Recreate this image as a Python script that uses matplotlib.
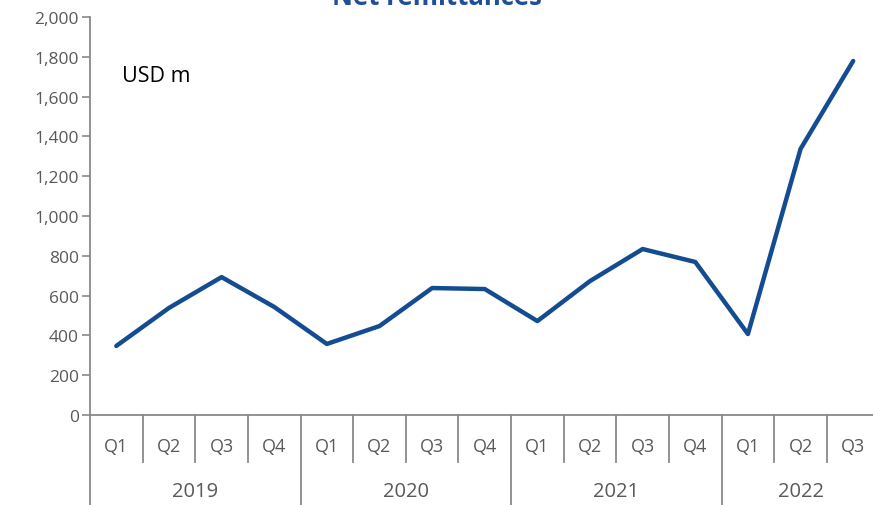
import numpy as np
import matplotlib.pyplot as plt
from matplotlib.transforms import blended_transform_factory

years = ["2019", "2020", "2021", "2022"]
quarters = ["Q1", "Q2", "Q3", "Q4"] * 3 + ["Q1", "Q2", "Q3"]
remittances = [347, 538, 693, 543, 357, 447, 638, 633,
               472, 673, 834, 769, 407, 1337, 1779]

line_col = "#134C91"
axis_col = "#898989"
text_col = "#595959"

plt.rcParams['font.family'] = ['Open Sans', 'DejaVu Sans']

fig = plt.figure(figsize=(8.73, 5.06), dpi=100)
ax = fig.add_axes([90 / 873, 90 / 506, 789.5 / 873, 398 / 506])

x = np.arange(len(remittances))
ax.plot(x, remittances, color=line_col, lw=3.2, solid_joinstyle='round',
        solid_capstyle='round', zorder=3)

ax.set_xlim(-0.5, len(remittances) - 0.5)
ax.set_ylim(0, 2000)
ax.set_yticks(np.arange(0, 2001, 200))
ax.set_yticklabels([f"{v:,}" for v in range(0, 2001, 200)])
ax.tick_params(axis='y', colors=axis_col, labelcolor=text_col, labelsize=12.5,
               length=6, width=1.2, direction='out', pad=2)
ax.set_xticks([])

for side in ['top', 'right']:
    ax.spines[side].set_visible(False)
for side in ['left', 'bottom']:
    ax.spines[side].set_color(axis_col)
    ax.spines[side].set_linewidth(1.3)

# two-level category axis below the plot
tr = blended_transform_factory(ax.transData, fig.transFigure)
q_bot = 1 - 463 / 506
fig_bot = 0.0
for i, q in enumerate(quarters):
    ax.text(i, 1 - 447 / 506, q, transform=tr, ha='center', va='center',
            fontsize=13, color=text_col)
for i in range(len(quarters) + 1):
    edge = i - 0.5
    if i % 4 == 0:
        y0 = fig_bot
    elif i == len(quarters):
        continue
    else:
        y0 = q_bot
    ax.plot([edge, edge], [90 / 506, y0], transform=tr, color=axis_col,
            lw=1.3, clip_on=False)
for k, yr in enumerate(years):
    n = min(4, len(quarters) - 4 * k)
    ax.text(4 * k + (n - 1) / 2, 1 - 492 / 506, yr, transform=tr,
            ha='center', va='center', fontsize=14.5, color=text_col)

ax.text(122 / 873, 1 - 76 / 506, "USD m", transform=fig.transFigure,
        ha='left', va='center', fontsize=15.5, color='black')

fig.text(437 / 873, 1 - 5 / 506, "Net remittances", ha='center',
         va='baseline', fontsize=18.5, fontweight='bold', color="#1F4E9A")

fig.savefig("out.png", dpi=100)
